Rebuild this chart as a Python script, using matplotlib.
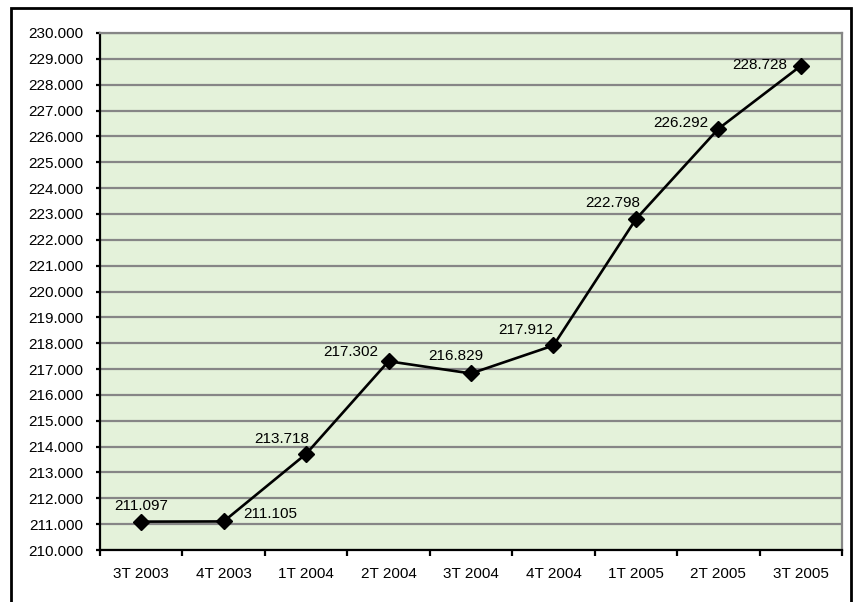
import matplotlib.pyplot as plt
from matplotlib.patches import Rectangle

plt.rcParams['font.family'] = ['Liberation Sans', 'DejaVu Sans']

quarters = ["3T 2003", "4T 2003", "1T 2004", "2T 2004", "3T 2004",
            "4T 2004", "1T 2005", "2T 2005", "3T 2005"]
values = [211.097, 211.105, 213.718, 217.302, 216.829,
          217.912, 222.798, 226.292, 228.728]
labels = ["211.097", "211.105", "213.718", "217.302", "216.829",
          "217.912", "222.798", "226.292", "228.728"]

# label placement (pixel offsets from point, horizontal alignment)
offsets = [(0, 16, "center"), (20, 7, "left"), (3, 15, "right"),
           (-10, 9, "right"), (-15, 17, "center"), (0, 15, "right"),
           (4, 16, "right"), (-10, 6, "right"), (-14, 1, "right")]

fig = plt.figure(figsize=(8.56, 6.02), dpi=100)
ax = fig.add_axes([100/856, 1 - 550/602, 742/856, 517/602])

ax.set_facecolor("#E4F2DA")
x = range(len(values))
ax.plot(x, values, color="black", lw=1.9, marker="D", ms=8.5, zorder=3)

for i, (v, lab) in enumerate(zip(values, labels)):
    dx, dy, ha = offsets[i]
    ax.annotate(lab, (i, v), xytext=(dx, dy), textcoords="offset pixels",
                ha=ha, va="center", fontsize=11)

ax.set_xlim(-0.5, 8.5)
ax.set_ylim(210, 230)
yt = list(range(210, 231))
ax.set_yticks(yt)
ax.set_yticklabels([f"{v:.3f}" for v in yt], fontsize=11)
ax.yaxis.grid(True, color="#868686", lw=1.6)
ax.set_axisbelow(True)

ax.set_xticks(list(x))
ax.set_xticklabels(quarters, fontsize=11)
ax.set_xticks([i - 0.5 for i in range(len(values) + 1)], minor=True)
ax.tick_params(axis="x", which="major", length=0, pad=12)
ax.tick_params(axis="x", which="minor", length=4, width=1.6, color="black")
ax.tick_params(axis="y", length=3, width=1.6, pad=9)

for s in ["left", "bottom"]:
    ax.spines[s].set_color("black")
    ax.spines[s].set_linewidth(1.6)
for s in ["top", "right"]:
    ax.spines[s].set_color("#868686")
    ax.spines[s].set_linewidth(1.6)

fig.patches.append(Rectangle((11/856, -0.02), 840/856, 1.02 - 8/602,
                             transform=fig.transFigure, fill=False,
                             edgecolor="black", lw=2))

fig.savefig("out.png", dpi=100)
